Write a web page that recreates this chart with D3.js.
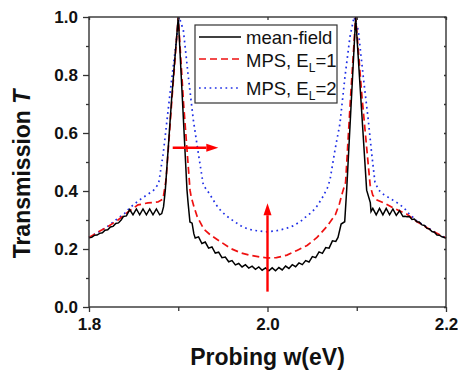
<!DOCTYPE html>
<html>
<head>
<meta charset="utf-8">
<script src="https://cdn.jsdelivr.net/npm/d3@7"></script>
<style>
  body { margin: 0; background: #fff; }
  svg text { font-family: "Liberation Sans", Arial, sans-serif; }
</style>
</head>
<body>
<div class="chart"></div>
<script>
// mean-field (black, solid) - w in eV, transmission T
var wMF = [1.800,1.803,1.806,1.809,1.812,1.815,1.818,1.821,1.824,1.827,1.830,1.833,1.836,1.8385,
  1.8419,1.8456,1.8493,1.8531,1.8568,1.8605,1.8643,1.8680,1.8717,1.8755,1.8792,1.8815,1.8835,1.8855,1.8925,
  1.9000,1.9098,1.9110,1.9131,1.9155,1.9175,
  1.9190,1.92275,1.9265,1.93025,1.934,1.93775,1.9415,1.94525,1.949,1.95275,1.9565,1.96025,1.964,1.96775,
  1.9715,1.97525,1.979,1.98275,1.9865,1.99025,1.994,1.99775,2.0015,2.00525,2.009,2.01275,2.0165,2.02025,
  2.024,2.02775,2.0315,2.03525,2.039,2.04275,2.0465,2.05025,2.054,2.05775,2.0615,2.06525,2.069,2.07275,2.0765,
  2.0790,2.0825,2.0865,2.0887,2.0988,2.1111,2.1152,2.1160,
  2.1180,2.1218,2.1255,2.1293,2.1330,2.1368,2.1405,2.1443,2.1480,2.1518,
  2.1540,2.1563,2.1590,2.1619,2.1645,2.1675,2.1700,2.1731,2.1760,2.1787,2.1810,2.1843,2.1870,2.1899,2.1930,2.1955,2.1980,2.2000];
var tMF = [0.239,0.240,0.247,0.248,0.254,0.256,0.265,0.266,0.276,0.278,0.288,0.290,0.300,0.312,
  0.314,0.336,0.318,0.338,0.318,0.338,0.318,0.338,0.318,0.338,0.318,0.322,0.345,0.403,0.714,
  1.000,0.403,0.360,0.293,0.289,0.252,
  0.238,0.242,0.219,0.224,0.203,0.207,0.186,0.189,0.170,0.172,0.156,0.160,0.145,0.150,
  0.138,0.146,0.134,0.141,0.130,0.138,0.127,0.135,0.125,0.135,0.125,0.136,0.128,0.141,
  0.133,0.146,0.139,0.152,0.146,0.160,0.155,0.174,0.170,0.190,0.185,0.205,0.203,0.228,0.226,
  0.240,0.286,0.294,0.403,1.000,0.403,0.360,0.329,
  0.340,0.318,0.340,0.318,0.340,0.318,0.338,0.316,0.332,0.312,
  0.313,0.311,0.312,0.302,0.303,0.294,0.293,0.283,0.281,0.271,0.270,0.260,0.258,0.248,0.247,0.242,0.240,0.237];

// MPS, E_L = 1 (red, dashed)
var wE1 = [1.800,1.810,1.821,1.8325,1.8437,1.8549,1.8661,1.8773,1.8829,1.8863,1.8930,1.9000,1.9060,1.9132,
  1.9145,1.9176,1.9213,1.9288,1.9362,1.9474,1.9586,1.9698,1.9810,1.9922,2.0000,2.0100,2.0218,2.0330,2.0443,
  2.0555,2.0667,2.0760,2.0805,2.0840,2.0875,2.0930,2.0988,2.1060,2.1150,2.1180,2.1227,2.1320,2.1400,2.1490,
  2.1563,2.1675,2.1768,2.1862,2.1974,2.2000];
var tE1 = [0.240,0.258,0.277,0.300,0.328,0.352,0.359,0.362,0.372,0.438,0.720,1.000,0.700,0.403,
  0.380,0.346,0.311,0.268,0.248,0.225,0.202,0.187,0.178,0.172,0.169,0.170,0.179,0.195,0.212,
  0.240,0.278,0.318,0.355,0.395,0.430,0.720,1.000,0.720,0.420,0.385,0.369,0.357,0.343,0.330,
  0.320,0.294,0.277,0.260,0.242,0.238];

// MPS, E_L = 2 (blue, dotted)
var wE2 = [1.800,1.810,1.820,1.830,1.840,1.846,1.852,1.858,1.8645,1.8717,1.8780,1.8832,1.8908,1.9010,
  1.9057,1.9113,1.9169,1.9225,1.9281,1.9333,1.9370,1.9426,1.9482,1.9545,1.9613,1.9700,1.9780,1.9860,1.9980,
  2.0100,2.0200,2.0290,2.0370,2.0430,2.0500,2.0560,2.0620,2.0670,2.0700,2.0756,2.0812,2.0868,2.0924,2.0970,
  2.1017,2.1073,2.1129,2.1167,2.1204,2.1246,2.1302,2.1370,2.1451,2.1526,2.1582,2.1675,2.1787,2.1918,2.2000];
var tE2 = [0.240,0.257,0.276,0.300,0.323,0.343,0.358,0.372,0.386,0.400,0.425,0.530,0.737,1.000,
  0.955,0.794,0.645,0.530,0.420,0.398,0.380,0.352,0.330,0.313,0.298,0.280,0.269,0.264,0.259,
  0.263,0.270,0.280,0.295,0.311,0.328,0.350,0.380,0.410,0.438,0.541,0.633,0.794,0.932,1.000,
  0.955,0.794,0.645,0.530,0.430,0.403,0.388,0.375,0.360,0.343,0.323,0.296,0.275,0.250,0.238];

var xTicks = [1.8, 2.0, 2.2], xMinor = [1.9, 2.1];
var yTicks = [0.0, 0.2, 0.4, 0.6, 0.8, 1.0], yMinor = [0.1, 0.3, 0.5, 0.7, 0.9];
var seriesNames = ["mean-field", "MPS, E", "MPS, E"];
var seriesSub = ["", "L", "L"];
var seriesTail = ["", "=1", "=2"];

// arrows [w, T] from -> to
var arrowH = [[1.8938, 0.549], [1.9449, 0.549]];
var arrowV = [[2.0, 0.053], [2.0, 0.358]];

var width = 458, height = 371;
var pL = 89, pT = 17, pR = 446, pB = 307;

var svg = d3.select(".chart").append("svg")
  .attr("width", width).attr("height", height);

var x = d3.scaleLinear().domain([1.8, 2.2]).range([pL, pR]);
var y = d3.scaleLinear().domain([0, 1]).range([pB, pT]);

var line = d3.line().x(function(d){ return x(d[0]); }).y(function(d){ return y(d[1]); });

function pairs(ws, ts){ return ws.map(function(w, i){ return [w, ts[i]]; }); }

var plot = svg.append("g");
plot.append("path").datum(pairs(wE2, tE2)).attr("d", line)
  .attr("fill", "none").attr("stroke", "#1f2fe6").attr("stroke-width", 1.7)
  .attr("stroke-dasharray", "1.7,3.6");
plot.append("path").datum(pairs(wE1, tE1)).attr("d", line)
  .attr("fill", "none").attr("stroke", "#ee1111").attr("stroke-width", 1.7)
  .attr("stroke-dasharray", "7,4");
plot.append("path").datum(pairs(wMF, tMF)).attr("d", line)
  .attr("fill", "none").attr("stroke", "#000").attr("stroke-width", 1.5);

// arrows
function arrow(a){
  var x0 = x(a[0][0]), y0 = y(a[0][1]), x1 = x(a[1][0]), y1 = y(a[1][1]);
  var ang = Math.atan2(y1 - y0, x1 - x0), L = 12, W = 4;
  var bx = x1 - L * Math.cos(ang), by = y1 - L * Math.sin(ang);
  svg.append("line").attr("x1", x0).attr("y1", y0).attr("x2", bx).attr("y2", by)
    .attr("stroke", "#f00").attr("stroke-width", 2.4);
  svg.append("path")
    .attr("d", "M" + x1 + "," + y1 +
      "L" + (bx + W * Math.sin(ang)) + "," + (by - W * Math.cos(ang)) +
      "L" + (bx - W * Math.sin(ang)) + "," + (by + W * Math.cos(ang)) + "Z")
    .attr("fill", "#f00");
}
arrow(arrowH);
arrow(arrowV);

// frame
svg.append("rect").attr("x", pL).attr("y", pT)
  .attr("width", pR - pL).attr("height", pB - pT)
  .attr("fill", "none").attr("stroke", "#333").attr("stroke-width", 1.4);

function styleAxis(g){
  g.select(".domain").remove();
  g.selectAll(".tick line").attr("stroke", "#333").attr("stroke-width", 1.3);
  g.selectAll(".tick text").attr("font-size", 17).attr("font-weight", "bold")
    .attr("fill", "#111");
}

svg.append("g").attr("transform", "translate(0," + pB + ")")
  .call(d3.axisBottom(x).tickValues(xTicks).tickSize(5).tickPadding(6).tickFormat(d3.format(".1f")))
  .call(styleAxis);
svg.append("g").attr("transform", "translate(0," + pB + ")")
  .call(d3.axisBottom(x).tickValues(xMinor).tickSize(4).tickFormat(""))
  .call(styleAxis);
svg.append("g").attr("transform", "translate(" + pL + ",0)")
  .call(d3.axisLeft(y).tickValues(yTicks).tickSize(6).tickPadding(5).tickFormat(d3.format(".1f")))
  .call(styleAxis);
svg.append("g").attr("transform", "translate(" + pL + ",0)")
  .call(d3.axisLeft(y).tickValues(yMinor).tickSize(3).tickFormat(""))
  .call(styleAxis);
// mirrored ticks on top and right, pointing inward
svg.append("g").attr("transform", "translate(0," + pT + ")")
  .call(d3.axisBottom(x).tickValues(xTicks.concat(xMinor)).tickSize(3).tickFormat(""))
  .call(styleAxis);
svg.append("g").attr("transform", "translate(" + pR + ",0)")
  .call(d3.axisLeft(y).tickValues(yTicks.concat(yMinor)).tickSize(2).tickFormat(""))
  .call(styleAxis);

// axis titles
svg.append("text").attr("x", (pL + pR) / 2).attr("y", 365)
  .attr("text-anchor", "middle").attr("font-size", 23).attr("font-weight", "bold")
  .attr("fill", "#111").text("Probing w(eV)");
var yt = svg.append("text").attr("transform", "translate(30,174) rotate(-90)")
  .attr("text-anchor", "middle").attr("font-size", 23).attr("font-weight", "bold")
  .attr("fill", "#111");
yt.append("tspan").text("Transmission ");
yt.append("tspan").attr("font-style", "italic").text("T");

// legend
var lg = svg.append("g");
lg.append("rect").attr("x", 195).attr("y", 25).attr("width", 142).attr("height", 78)
  .attr("fill", "#fff").attr("stroke", "#333").attr("stroke-width", 1.2);
var lineY = [37, 59, 88], textY = [43.5, 66.5, 95];
var colors = ["#000", "#ee1111", "#1f2fe6"], dashes = [null, "7,4", "1.7,3.6"];
seriesNames.forEach(function(n, i){
  lg.append("line").attr("x1", 199).attr("x2", 241).attr("y1", lineY[i]).attr("y2", lineY[i])
    .attr("stroke", colors[i]).attr("stroke-width", 1.7).attr("stroke-dasharray", dashes[i]);
  var t = lg.append("text").attr("x", 246).attr("y", textY[i]).attr("font-size", 18.5).attr("fill", "#111");
  t.append("tspan").text(n);
  if (seriesSub[i]) {
    t.append("tspan").attr("font-size", 12).attr("dy", 5).text(seriesSub[i]);
    t.append("tspan").attr("dy", -5).text(seriesTail[i]);
  }
});
</script>
</body>
</html>
